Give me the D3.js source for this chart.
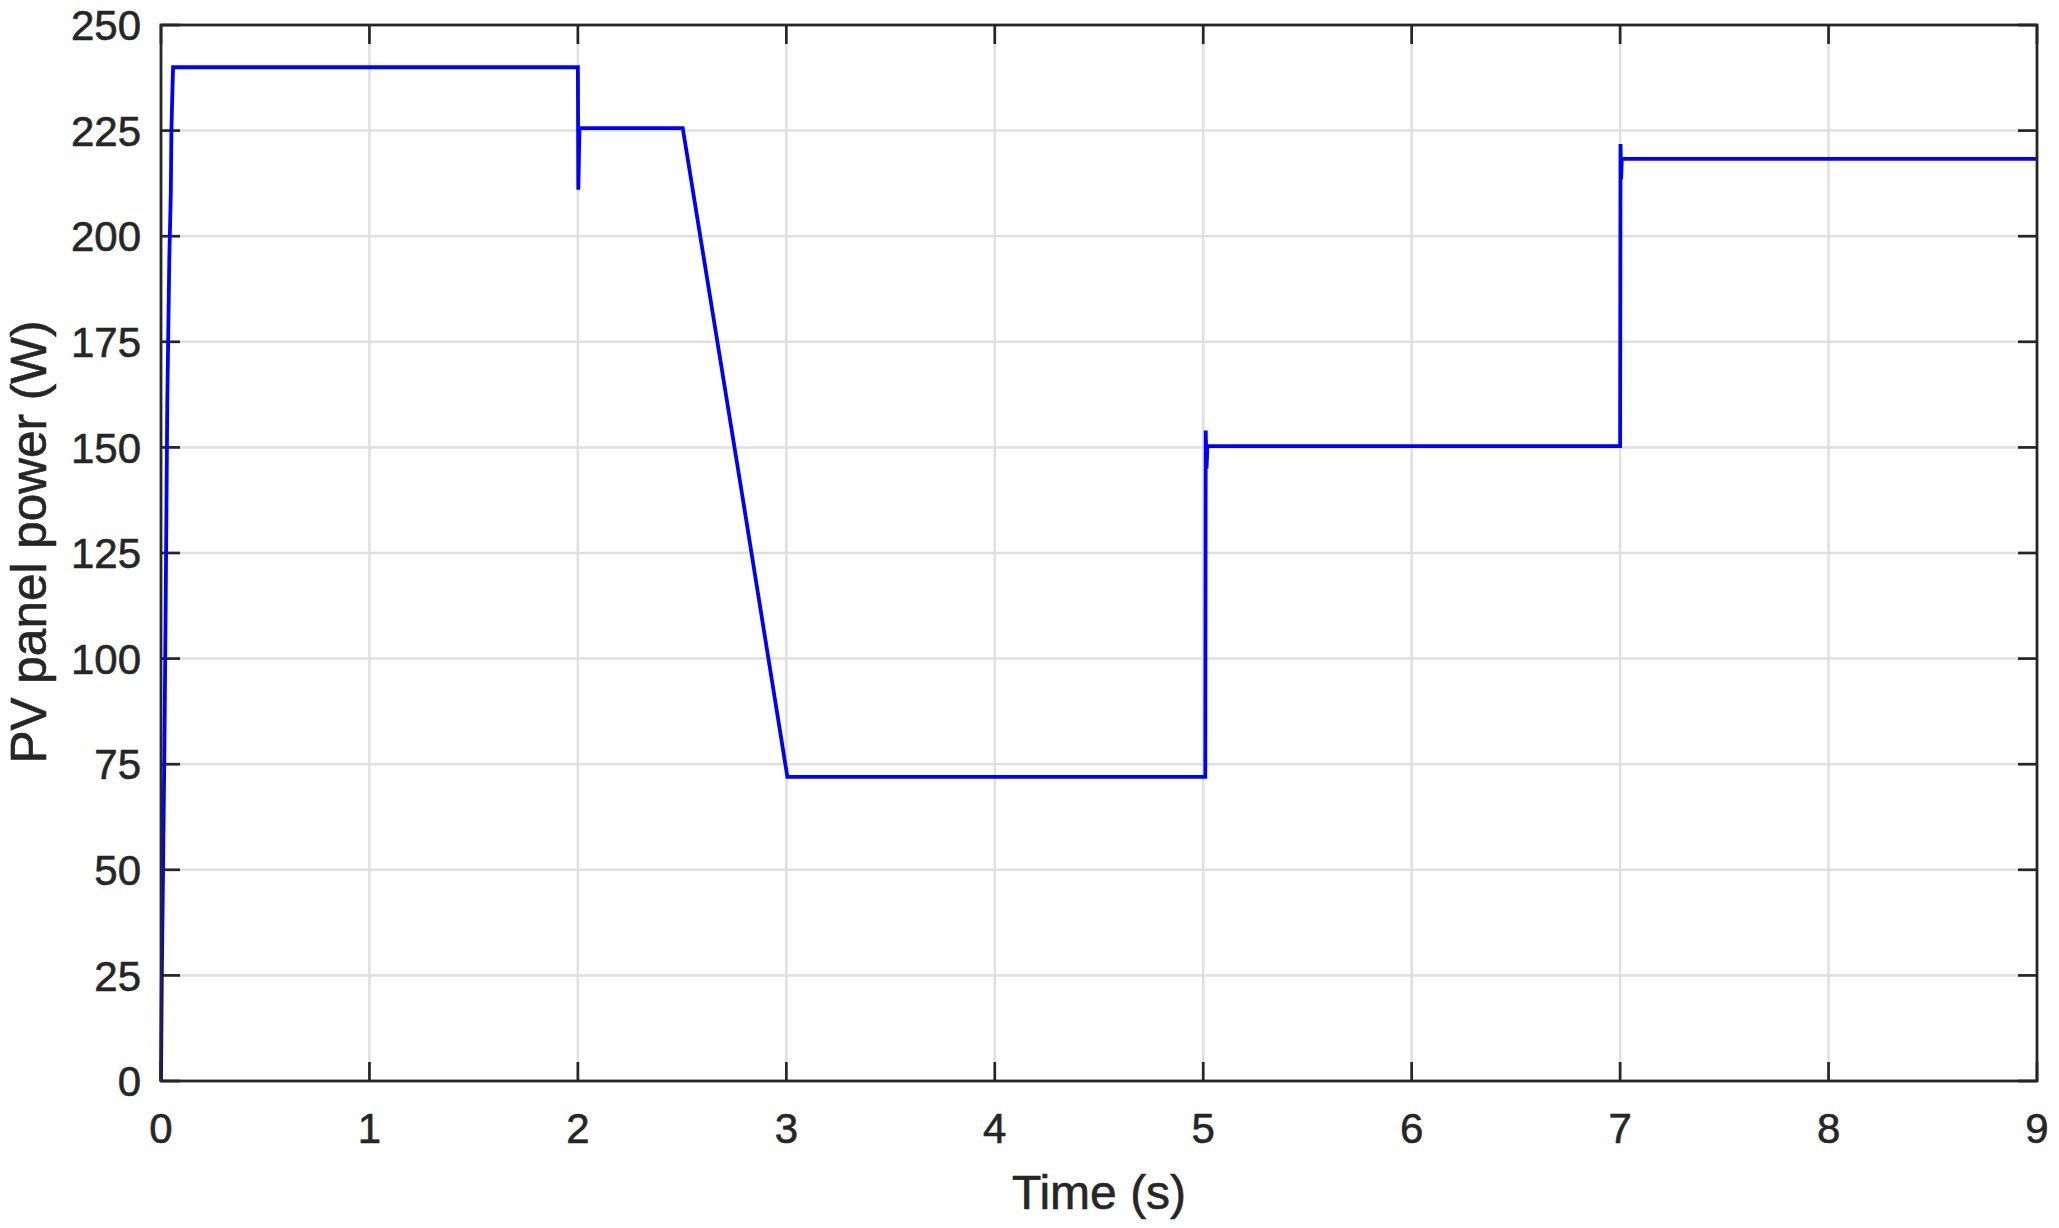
<!DOCTYPE html>
<html>
<head>
<meta charset="utf-8">
<script src="https://cdn.jsdelivr.net/npm/d3@7"></script>
<style>
  html, body { margin: 0; padding: 0; background: #fff; }
  svg { display: block; font-family: "Liberation Sans", Arial, Helvetica, sans-serif; }
  svg text { stroke: #262626; stroke-width: 0.6px; }
</style>
</head>
<body>
<div id="chart"></div>
<script>
// ── Data (PV panel power vs time) ────────────────────────────────────────────
const timeS = [
    0, 0.004, 0.011, 0.016, 0.022, 0.03, 0.04, 0.047, 0.05, 0.055, 0.058,
    2.0, 2.002, 2.006, 2.008,
    2.503, 2.794, 3.005,
    5.01, 5.012, 5.016, 5.02,
    7.0, 7.002, 7.005, 7.008,
    9.0
];
const powerW = [
    0, 25, 55, 77, 110, 160, 195, 210, 225, 235, 240,
    240, 211, 221, 225.6,
    225.6, 137, 72,
    72, 154, 145, 150.3,
    150.3, 221.8, 213.5, 218.3,
    218.3
];
const xTicks = [0, 1, 2, 3, 4, 5, 6, 7, 8, 9];
const yTicks = [0, 25, 50, 75, 100, 125, 150, 175, 200, 225, 250];
const xLabel = 'Time (s)';
const yLabel = 'PV panel power (W)';

// ── Layout ───────────────────────────────────────────────────────────────────
const width = 2059, height = 1228;
const plot = { left: 161, right: 2037, top: 25, bottom: 1081 };
const axisColor = '#262626';
const gridColor = '#dfdfdf';
const tickLen = 19;

const x = d3.scaleLinear().domain([0, 9]).range([plot.left, plot.right]);
const y = d3.scaleLinear().domain([0, 250]).range([plot.bottom, plot.top]);

const svg = d3.select('#chart').append('svg')
    .attr('width', width).attr('height', height);

svg.append('rect').attr('width', width).attr('height', height).attr('fill', '#fff');

// ── Grid ─────────────────────────────────────────────────────────────────────
const grid = svg.append('g');
grid.selectAll('.gx').data(xTicks.slice(1, -1)).join('line')
    .attr('x1', d => x(d)).attr('x2', d => x(d))
    .attr('y1', plot.top).attr('y2', plot.bottom)
    .attr('stroke', gridColor).attr('stroke-width', 2.5);
grid.selectAll('.gy').data(yTicks.slice(1, -1)).join('line')
    .attr('x1', plot.left).attr('x2', plot.right)
    .attr('y1', d => y(d)).attr('y2', d => y(d))
    .attr('stroke', gridColor).attr('stroke-width', 2.5);

// ── Tick marks (inside, on all four sides) ──────────────────────────────────
const ticks = svg.append('g').attr('stroke', axisColor).attr('stroke-width', 2.7);
xTicks.forEach(d => {
    ticks.append('line').attr('x1', x(d)).attr('x2', x(d))
        .attr('y1', plot.bottom).attr('y2', plot.bottom - tickLen);
    ticks.append('line').attr('x1', x(d)).attr('x2', x(d))
        .attr('y1', plot.top).attr('y2', plot.top + tickLen);
});
yTicks.forEach(d => {
    ticks.append('line').attr('x1', plot.left).attr('x2', plot.left + tickLen)
        .attr('y1', y(d)).attr('y2', y(d));
    ticks.append('line').attr('x1', plot.right).attr('x2', plot.right - tickLen)
        .attr('y1', y(d)).attr('y2', y(d));
});

// ── Series ───────────────────────────────────────────────────────────────────
const series = timeS.map((t, i) => ({ t, p: powerW[i] }));
svg.append('path')
    .datum(series)
    .attr('fill', 'none')
    .attr('stroke', '#0000ff')
    .attr('stroke-width', 3.8)
    .attr('stroke-linejoin', 'miter')
    .attr('d', d3.line().x(d => x(d.t)).y(d => y(d.p)));

// ── Box ──────────────────────────────────────────────────────────────────────
svg.append('rect')
    .attr('x', plot.left).attr('y', plot.top)
    .attr('width', plot.right - plot.left).attr('height', plot.bottom - plot.top)
    .attr('fill', 'none').attr('stroke', axisColor).attr('stroke-width', 2.8);

// ── Tick labels ──────────────────────────────────────────────────────────────
svg.append('g').selectAll('text').data(xTicks).join('text')
    .attr('x', d => x(d)).attr('y', 1143)
    .attr('text-anchor', 'middle')
    .style('font-size', '42px').style('fill', axisColor)
    .text(d => d);

svg.append('g').selectAll('text').data(yTicks).join('text')
    .attr('x', 141).attr('y', d => y(d))
    .attr('dy', '0.36em')
    .attr('text-anchor', 'end')
    .style('font-size', '42px').style('fill', axisColor)
    .text(d => d);

// ── Axis labels ──────────────────────────────────────────────────────────────
svg.append('text')
    .attr('x', (plot.left + plot.right) / 2).attr('y', 1209)
    .attr('text-anchor', 'middle')
    .style('font-size', '48px').style('fill', axisColor)
    .text(xLabel);

svg.append('text')
    .attr('transform', 'translate(46,542) rotate(-90)')
    .attr('text-anchor', 'middle')
    .style('font-size', '49.5px').style('fill', axisColor)
    .text(yLabel);
</script>
</body>
</html>
